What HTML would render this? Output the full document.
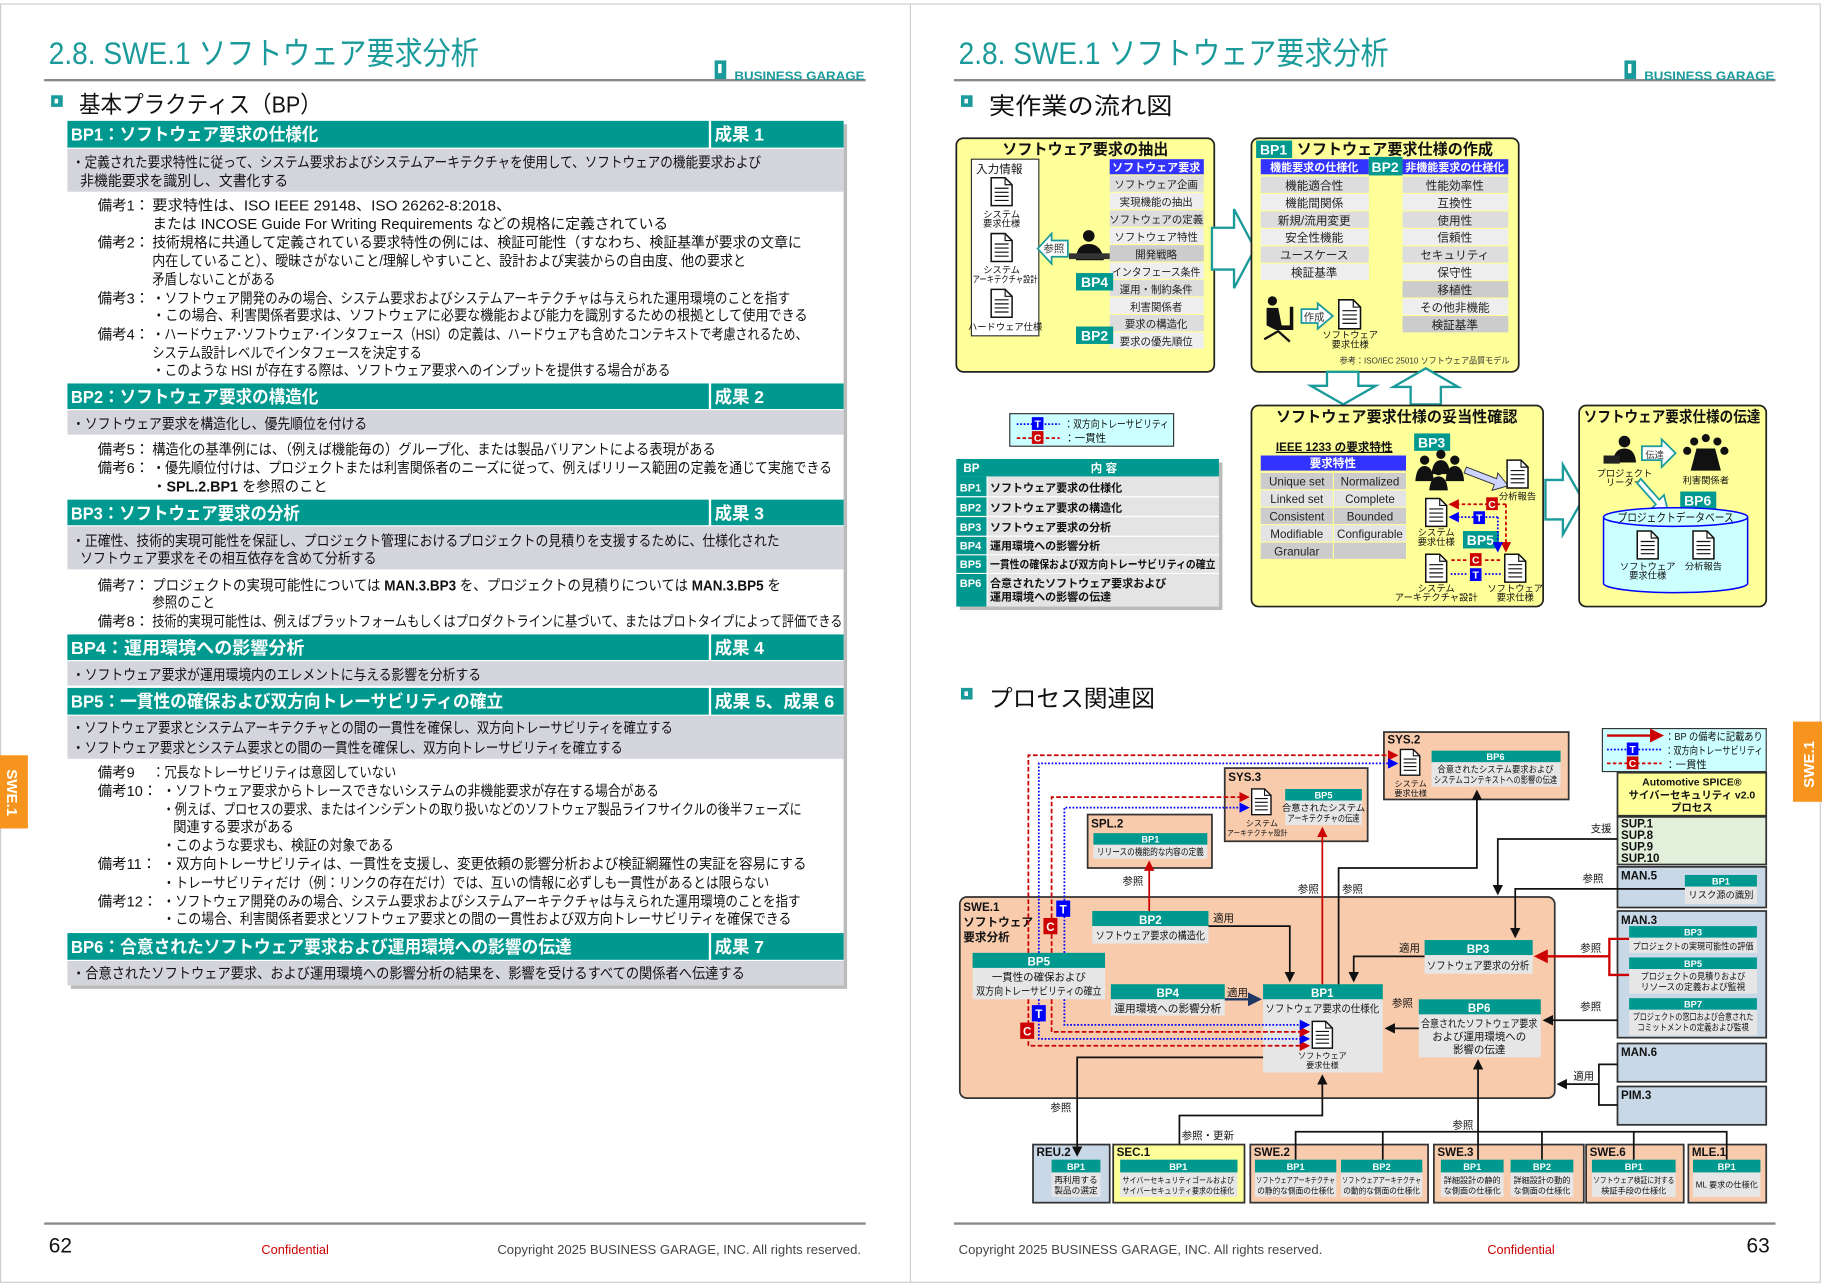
<!DOCTYPE html>
<html><head><meta charset="utf-8"><style>
html,body{margin:0;padding:0;background:#fff;}
svg{display:block;font-family:"Liberation Sans","Noto Sans CJK JP",sans-serif;}
.hd{fill:#fff;font-weight:bold;font-size:15px;}
.tx{fill:#111;font-size:12.5px;}
.s9{font-size:9px;fill:#111;}
.s8{font-size:8px;fill:#111;}
.s10{font-size:10px;fill:#111;}
.bw{fill:#fff;font-weight:bold;}
.lbl{font-size:9px;fill:#111;}
</style></head><body>
<svg width="1822" height="1284" viewBox="0 0 1568 1105" preserveAspectRatio="none" xmlns="http://www.w3.org/2000/svg">
<defs>
<symbol id="doc" viewBox="0 0 20 26"><path d="M1,1 H13 L19,7 V25 H1 Z" fill="#fff" stroke="#111" stroke-width="1.3"/><path d="M13,1 V7 H19" fill="none" stroke="#111" stroke-width="1"/><path d="M4,10H16M4,13.5H16M4,17H16M4,20.5H16" stroke="#111" stroke-width="1"/></symbol>
<marker id="ab" markerWidth="6" markerHeight="6" refX="5" refY="3" orient="auto"><path d="M0,0L6,3L0,6Z" fill="#111"/></marker>
<marker id="ar" markerWidth="6" markerHeight="6" refX="5" refY="3" orient="auto"><path d="M0,0L6,3L0,6Z" fill="#c00"/></marker>
<marker id="au" markerWidth="6" markerHeight="6" refX="5" refY="3" orient="auto"><path d="M0,0L6,3L0,6Z" fill="#00f"/></marker>
<marker id="an" markerWidth="6" markerHeight="6" refX="5" refY="3" orient="auto"><path d="M0,0L6,3L0,6Z" fill="#1f3864"/></marker>
</defs>
<rect x="0" y="0" width="1568" height="1105" fill="#fff"/>
<rect x="0.5" y="3.5" width="1566" height="1100" fill="none" stroke="#ccc"/>
<line x1="783.5" y1="3" x2="783.5" y2="1104" stroke="#ccc"/>

<!-- ============ LEFT PAGE ============ -->
<text x="42" y="55" font-size="27" fill="#1a9a9a" textLength="370" lengthAdjust="spacingAndGlyphs">2.8. SWE.1 ソフトウェア要求分析</text>
<rect x="38" y="68" width="707" height="2" fill="#888"/>
<rect x="615" y="52" width="10" height="16" fill="#1a9a9a"/><rect x="618" y="55" width="3" height="8" fill="#fff"/>
<text x="632" y="69" font-size="10" font-weight="bold" fill="#1a9a9a" textLength="112" lengthAdjust="spacingAndGlyphs">BUSINESS GARAGE</text>
<rect x="44" y="82" width="10" height="10" fill="#1a9a9a"/><rect x="47" y="85" width="3" height="4" fill="#fff"/>
<text x="68" y="97" font-size="20" fill="#111" textLength="209" lengthAdjust="spacingAndGlyphs">基本プラクティス（BP）</text>

<rect x="61" y="107" width="668" height="744" fill="#bbb"/>
<rect x="58" y="104" width="668" height="744" fill="#fff"/>
<g fill="#00998f">
<rect x="58" y="104" width="552" height="23"/><rect x="612" y="104" width="114" height="23"/>
<rect x="58" y="330" width="552" height="22"/><rect x="612" y="330" width="114" height="22"/>
<rect x="58" y="430" width="552" height="22"/><rect x="612" y="430" width="114" height="22"/>
<rect x="58" y="546" width="552" height="22"/><rect x="612" y="546" width="114" height="22"/>
<rect x="58" y="592" width="552" height="23"/><rect x="612" y="592" width="114" height="23"/>
<rect x="58" y="803" width="552" height="23"/><rect x="612" y="803" width="114" height="23"/>
</g>
<g fill="#d4d4dc">
<rect x="58" y="128" width="668" height="37"/><rect x="58" y="353" width="668" height="21"/>
<rect x="58" y="453" width="668" height="37"/><rect x="58" y="569" width="668" height="21"/>
<rect x="58" y="616" width="668" height="37"/><rect x="58" y="827" width="668" height="21"/>
</g>
<text class="hd" x="61" y="121" textLength="213" lengthAdjust="spacingAndGlyphs">BP1：ソフトウェア要求の仕様化</text><text class="hd" x="615" y="121">成果 1</text>
<text class="hd" x="61" y="347" textLength="213" lengthAdjust="spacingAndGlyphs">BP2：ソフトウェア要求の構造化</text><text class="hd" x="615" y="347">成果 2</text>
<text class="hd" x="61" y="447" textLength="197" lengthAdjust="spacingAndGlyphs">BP3：ソフトウェア要求の分析</text><text class="hd" x="615" y="447">成果 3</text>
<text class="hd" x="61" y="563" textLength="201" lengthAdjust="spacingAndGlyphs">BP4：運用環境への影響分析</text><text class="hd" x="615" y="563">成果 4</text>
<text class="hd" x="61" y="609" textLength="372" lengthAdjust="spacingAndGlyphs">BP5：一貫性の確保および双方向トレーサビリティの確立</text><text class="hd" x="615" y="609" textLength="103" lengthAdjust="spacingAndGlyphs">成果 5、成果 6</text>
<text class="hd" x="61" y="820" textLength="431" lengthAdjust="spacingAndGlyphs">BP6：合意されたソフトウェア要求および運用環境への影響の伝達</text><text class="hd" x="615" y="820">成果 7</text>

<g class="tx">
<text x="62" y="144" textLength="593" lengthAdjust="spacingAndGlyphs">・定義された要求特性に従って、システム要求およびシステムアーキテクチャを使用して、ソフトウェアの機能要求および</text>
<text x="69" y="160" textLength="179" lengthAdjust="spacingAndGlyphs">非機能要求を識別し、文書化する</text>
<text x="84" y="181">備考1：</text><text x="131" y="181" textLength="309" lengthAdjust="spacingAndGlyphs">要求特性は、ISO IEEE 29148、ISO 26262-8:2018、</text>
<text x="131" y="197" textLength="444" lengthAdjust="spacingAndGlyphs">または INCOSE Guide For Writing Requirements などの規格に定義されている</text>
<text x="84" y="213">備考2：</text><text x="131" y="213" textLength="559" lengthAdjust="spacingAndGlyphs">技術規格に共通して定義されている要求特性の例には、検証可能性（すなわち、検証基準が要求の文章に</text>
<text x="131" y="229" textLength="511" lengthAdjust="spacingAndGlyphs">内在していること）、曖昧さがないこと/理解しやすいこと、設計および実装からの自由度、他の要求と</text>
<text x="131" y="245" textLength="106" lengthAdjust="spacingAndGlyphs">矛盾しないことがある</text>
<text x="84" y="261">備考3：</text><text x="131" y="261" textLength="549" lengthAdjust="spacingAndGlyphs">・ソフトウェア開発のみの場合、システム要求およびシステムアーキテクチャは与えられた運用環境のことを指す</text>
<text x="131" y="276" textLength="564" lengthAdjust="spacingAndGlyphs">・この場合、利害関係者要求は、ソフトウェアに必要な機能および能力を識別するための根拠として使用できる</text>
<text x="84" y="292">備考4：</text><text x="131" y="292" textLength="564" lengthAdjust="spacingAndGlyphs">・ハードウェア･ソフトウェア･インタフェース（HSI）の定義は、ハードウェアも含めたコンテキストで考慮されるため、</text>
<text x="131" y="308" textLength="232" lengthAdjust="spacingAndGlyphs">システム設計レベルでインタフェースを決定する</text>
<text x="131" y="323" textLength="446" lengthAdjust="spacingAndGlyphs">・このような HSI が存在する際は、ソフトウェア要求へのインプットを提供する場合がある</text>

<text x="62" y="369" textLength="254" lengthAdjust="spacingAndGlyphs">・ソフトウェア要求を構造化し、優先順位を付ける</text>
<text x="84" y="391">備考5：</text><text x="131" y="391" textLength="485" lengthAdjust="spacingAndGlyphs">構造化の基準例には、（例えば機能毎の）グループ化、または製品バリアントによる表現がある</text>
<text x="84" y="407">備考6：</text><text x="131" y="407" textLength="585" lengthAdjust="spacingAndGlyphs">・優先順位付けは、プロジェクトまたは利害関係者のニーズに従って、例えばリリース範囲の定義を通じて実施できる</text>
<text x="131" y="423" textLength="151" lengthAdjust="spacingAndGlyphs">・<tspan font-weight="bold">SPL.2.BP1</tspan> を参照のこと</text>

<text x="62" y="470" textLength="609" lengthAdjust="spacingAndGlyphs">・正確性、技術的実現可能性を保証し、プロジェクト管理におけるプロジェクトの見積りを支援するために、仕様化された</text>
<text x="69" y="485" textLength="255" lengthAdjust="spacingAndGlyphs">ソフトウェア要求をその相互依存を含めて分析する</text>
<text x="84" y="508">備考7：</text><text x="131" y="508" textLength="541" lengthAdjust="spacingAndGlyphs">プロジェクトの実現可能性については <tspan font-weight="bold">MAN.3.BP3</tspan> を、プロジェクトの見積りについては <tspan font-weight="bold">MAN.3.BP5</tspan> を</text>
<text x="131" y="523" textLength="54" lengthAdjust="spacingAndGlyphs">参照のこと</text>
<text x="84" y="539">備考8：</text><text x="131" y="539" textLength="594" lengthAdjust="spacingAndGlyphs">技術的実現可能性は、例えばプラットフォームもしくはプロダクトラインに基づいて、またはプロトタイプによって評価できる</text>

<text x="62" y="585" textLength="352" lengthAdjust="spacingAndGlyphs">・ソフトウェア要求が運用環境内のエレメントに与える影響を分析する</text>

<text x="62" y="631" textLength="517" lengthAdjust="spacingAndGlyphs">・ソフトウェア要求とシステムアーキテクチャとの間の一貫性を確保し、双方向トレーサビリティを確立する</text>
<text x="62" y="648" textLength="474" lengthAdjust="spacingAndGlyphs">・ソフトウェア要求とシステム要求との間の一貫性を確保し、双方向トレーサビリティを確立する</text>
<text x="84" y="669">備考9</text><text x="131" y="669" textLength="210" lengthAdjust="spacingAndGlyphs">：冗長なトレーサビリティは意図していない</text>
<text x="84" y="685">備考10：</text><text x="140" y="685" textLength="427" lengthAdjust="spacingAndGlyphs">・ソフトウェア要求からトレースできないシステムの非機能要求が存在する場合がある</text>
<text x="140" y="701" textLength="550" lengthAdjust="spacingAndGlyphs">・例えば、プロセスの要求、またはインシデントの取り扱いなどのソフトウェア製品ライフサイクルの後半フェーズに</text>
<text x="149" y="716" textLength="104" lengthAdjust="spacingAndGlyphs">関連する要求がある</text>
<text x="140" y="732" textLength="199" lengthAdjust="spacingAndGlyphs">・このような要求も、検証の対象である</text>
<text x="84" y="748">備考11：</text><text x="140" y="748" textLength="554" lengthAdjust="spacingAndGlyphs">・双方向トレーサビリティは、一貫性を支援し、変更依頼の影響分析および検証網羅性の実証を容易にする</text>
<text x="140" y="764" textLength="522" lengthAdjust="spacingAndGlyphs">・トレーサビリティだけ（例：リンクの存在だけ）では、互いの情報に必ずしも一貫性があるとは限らない</text>
<text x="84" y="780">備考12：</text><text x="140" y="780" textLength="549" lengthAdjust="spacingAndGlyphs">・ソフトウェア開発のみの場合、システム要求およびシステムアーキテクチャは与えられた運用環境のことを指す</text>
<text x="140" y="795" textLength="541" lengthAdjust="spacingAndGlyphs">・この場合、利害関係者要求とソフトウェア要求との間の一貫性および双方向トレーサビリティを確保できる</text>
<text x="62" y="842" textLength="579" lengthAdjust="spacingAndGlyphs">・合意されたソフトウェア要求、および運用環境への影響分析の結果を、影響を受けるすべての関係者へ伝達する</text>
</g>

<rect x="0" y="650" width="24" height="63" fill="#f7941d"/>
<text x="6" y="662" transform="rotate(90 6 662)" font-size="13" font-weight="bold" fill="#fff">SWE.1</text>

<rect x="38" y="1052" width="707" height="2" fill="#888"/>
<text x="42" y="1078" font-size="18" fill="#111">62</text>
<text x="225" y="1079" font-size="11" fill="#c00">Confidential</text>
<text x="428" y="1079" font-size="11" fill="#444" textLength="313" lengthAdjust="spacingAndGlyphs">Copyright 2025 BUSINESS GARAGE, INC. All rights reserved.</text>

<!-- ============ RIGHT PAGE ============ -->
<text x="825" y="55" font-size="27" fill="#1a9a9a" textLength="370" lengthAdjust="spacingAndGlyphs">2.8. SWE.1 ソフトウェア要求分析</text>
<rect x="821" y="68" width="707" height="2" fill="#888"/>
<rect x="1398" y="52" width="10" height="16" fill="#1a9a9a"/><rect x="1401" y="55" width="3" height="8" fill="#fff"/>
<text x="1415" y="69" font-size="10" font-weight="bold" fill="#1a9a9a" textLength="112" lengthAdjust="spacingAndGlyphs">BUSINESS GARAGE</text>
<rect x="827" y="82" width="10" height="10" fill="#1a9a9a"/><rect x="830" y="85" width="3" height="4" fill="#fff"/>
<text x="851" y="98" font-size="20" fill="#111" textLength="158" lengthAdjust="spacingAndGlyphs">実作業の流れ図</text>
<rect x="827" y="592" width="10" height="10" fill="#1a9a9a"/><rect x="830" y="595" width="3" height="4" fill="#fff"/>
<text x="851" y="608" font-size="20" fill="#111" textLength="143" lengthAdjust="spacingAndGlyphs">プロセス関連図</text>

<!-- Box1 -->
<rect x="823" y="119" width="222" height="201" rx="6" fill="#ffff99" stroke="#222" stroke-width="1.5"/>
<text x="934" y="133" font-size="13" font-weight="bold" text-anchor="middle" fill="#111">ソフトウェア要求の抽出</text>
<rect x="836" y="137" width="58" height="152" fill="#fff" stroke="#333"/>
<text x="840" y="149" class="s10">入力情報</text>
<use href="#doc" x="852" y="152" width="20" height="26"/><text x="862" y="187" class="s8" text-anchor="middle" font-size="7">システム</text><text x="862" y="195" class="s8" text-anchor="middle" font-size="7">要求仕様</text>
<use href="#doc" x="852" y="200" width="20" height="26"/><text x="862" y="235" class="s8" text-anchor="middle" font-size="7">システム</text><text x="865" y="243" class="s8" text-anchor="middle" font-size="6.5" textLength="56" lengthAdjust="spacingAndGlyphs">アーキテクチャ設計</text>
<use href="#doc" x="852" y="248" width="20" height="26"/><text x="865" y="284" class="s8" text-anchor="middle" font-size="6.5">ハードウェア仕様</text>
<rect x="955" y="137" width="81" height="13" fill="#3333ff"/><text x="995" y="147" font-size="9.5" class="bw" text-anchor="middle">ソフトウェア要求</text>
<g font-size="9" fill="#222" text-anchor="middle">
<rect x="955" y="151" width="81" height="14" fill="#ddd"/><text x="995" y="162">ソフトウェア企画</text>
<rect x="955" y="166" width="81" height="14" fill="#eee"/><text x="995" y="177">実現機能の抽出</text>
<rect x="955" y="181" width="81" height="14" fill="#ddd"/><text x="995" y="192">ソフトウェアの定義</text>
<rect x="955" y="196" width="81" height="14" fill="#eee"/><text x="995" y="207">ソフトウェア特性</text>
<rect x="955" y="211" width="81" height="14" fill="#ccc"/><text x="995" y="222">開発戦略</text>
<rect x="955" y="226" width="81" height="14" fill="#eee"/><text x="995" y="237" textLength="76" lengthAdjust="spacingAndGlyphs">インタフェース条件</text>
<rect x="955" y="241" width="81" height="14" fill="#ddd"/><text x="995" y="252">運用・制約条件</text>
<rect x="955" y="256" width="81" height="14" fill="#eee"/><text x="995" y="267">利害関係者</text>
<rect x="955" y="271" width="81" height="14" fill="#ddd"/><text x="995" y="282">要求の構造化</text>
<rect x="955" y="286" width="81" height="14" fill="#eee"/><text x="995" y="297">要求の優先順位</text>
</g>
<circle cx="937" cy="203" r="5" fill="#111"/><path d="M926,224 Q926,210 937,210 Q948,210 950,224 Z" fill="#111"/><rect x="920" y="218" width="35" height="5" fill="#333"/>
<path d="M919,207 H905 V201 L893,214 L905,227 V221 H919 Z" fill="#fff" stroke="#1a9a9a" stroke-width="1.5"/><text x="898" y="217" font-size="9" fill="#333">参照</text>
<rect x="926" y="235" width="32" height="15" fill="#00998f"/><text x="942" y="247" font-size="12" class="bw" text-anchor="middle">BP4</text>
<rect x="926" y="281" width="32" height="15" fill="#00998f"/><text x="942" y="293" font-size="12" class="bw" text-anchor="middle">BP2</text>
<path d="M1043,196 H1062 V180 L1080,214 L1062,248 V232 H1043 Z" fill="#fff" stroke="#1a9a9a" stroke-width="2"/>

<!-- Box2 -->
<rect x="1077" y="119" width="230" height="201" rx="6" fill="#ffff99" stroke="#222" stroke-width="1.5"/>
<rect x="1081" y="121" width="31" height="15" fill="#00998f"/><text x="1096" y="133" font-size="12" class="bw" text-anchor="middle">BP1</text>
<text x="1116" y="133" font-size="13" font-weight="bold" fill="#111">ソフトウェア要求仕様の作成</text>
<rect x="1085" y="137" width="93" height="13" fill="#3333ff"/><text x="1131" y="147" font-size="9.5" class="bw" text-anchor="middle">機能要求の仕様化</text>
<rect x="1178" y="135" width="29" height="16" fill="#00998f"/><text x="1192" y="148" font-size="12" class="bw" text-anchor="middle">BP2</text>
<rect x="1207" y="137" width="91" height="13" fill="#3333ff"/><text x="1252" y="147" font-size="9.5" class="bw" text-anchor="middle">非機能要求の仕様化</text>
<g font-size="10" fill="#222" text-anchor="middle">
<rect x="1085" y="152" width="93" height="14" fill="#ddd"/><text x="1131" y="163">機能適合性</text>
<rect x="1085" y="167" width="93" height="14" fill="#eee"/><text x="1131" y="178">機能間関係</text>
<rect x="1085" y="182" width="93" height="14" fill="#ddd"/><text x="1131" y="193">新規/流用変更</text>
<rect x="1085" y="197" width="93" height="14" fill="#eee"/><text x="1131" y="208">安全性機能</text>
<rect x="1085" y="212" width="93" height="14" fill="#ddd"/><text x="1131" y="223">ユースケース</text>
<rect x="1085" y="227" width="93" height="14" fill="#eee"/><text x="1131" y="238">検証基準</text>
<rect x="1207" y="152" width="91" height="14" fill="#ddd"/><text x="1252" y="163">性能効率性</text>
<rect x="1207" y="167" width="91" height="14" fill="#eee"/><text x="1252" y="178">互換性</text>
<rect x="1207" y="182" width="91" height="14" fill="#ddd"/><text x="1252" y="193">使用性</text>
<rect x="1207" y="197" width="91" height="14" fill="#eee"/><text x="1252" y="208">信頼性</text>
<rect x="1207" y="212" width="91" height="14" fill="#ddd"/><text x="1252" y="223">セキュリティ</text>
<rect x="1207" y="227" width="91" height="14" fill="#eee"/><text x="1252" y="238">保守性</text>
<rect x="1207" y="242" width="91" height="14" fill="#ccc"/><text x="1252" y="253">移植性</text>
<rect x="1207" y="257" width="91" height="14" fill="#eee"/><text x="1252" y="268">その他非機能</text>
<rect x="1207" y="272" width="91" height="14" fill="#ccc"/><text x="1252" y="283">検証基準</text>
</g>
<circle cx="1095" cy="259" r="4" fill="#111"/><path d="M1090,265 H1100 L1103,280 H1112 V284 H1098 L1090,280 Z" fill="#111"/><rect x="1110" y="264" width="3" height="20" fill="#111"/><path d="M1088,292 L1100,285 L1110,294" stroke="#111" stroke-width="2" fill="none"/>
<path d="M1120,266 H1134 V261 L1147,272 L1134,283 V278 H1120 Z" fill="#fff" stroke="#1a9a9a" stroke-width="1.5"/><text x="1122" y="276" font-size="9" fill="#333">作成</text>
<use href="#doc" x="1151" y="257" width="21" height="27"/>
<text x="1162" y="291" class="s8" font-size="7" text-anchor="middle">ソフトウェア</text><text x="1162" y="299" class="s8" font-size="7" text-anchor="middle">要求仕様</text>
<text x="1153" y="313" font-size="7.5" fill="#333" textLength="146" lengthAdjust="spacingAndGlyphs">参考：ISO/IEC 25010 ソフトウェア品質モデル</text>
<path d="M1142,320 H1169 V332 H1184 L1156,348 L1128,332 H1142 Z" fill="#fff" stroke="#1a9a9a" stroke-width="2"/>
<path d="M1214,348 H1240 V333 H1255 L1227,317 L1199,333 H1214 Z" fill="#fff" stroke="#1a9a9a" stroke-width="2"/>

<!-- Box3 -->
<rect x="1077" y="349" width="251" height="173" rx="6" fill="#ffff99" stroke="#222" stroke-width="1.5"/>
<text x="1202" y="363" font-size="13" font-weight="bold" text-anchor="middle" fill="#111">ソフトウェア要求仕様の妥当性確認</text>
<text x="1098" y="388" font-size="10" font-weight="bold" fill="#111" text-decoration="underline">IEEE 1233 の要求特性</text>
<rect x="1085" y="392" width="125" height="13" fill="#3333ff"/><text x="1147" y="402" font-size="10" class="bw" text-anchor="middle">要求特性</text>
<g font-size="10" fill="#222" text-anchor="middle">
<rect x="1085" y="407" width="62" height="14" fill="#ccc"/><rect x="1148" y="407" width="62" height="14" fill="#ccc"/><text x="1116" y="418">Unique set</text><text x="1179" y="418">Normalized</text>
<rect x="1085" y="422" width="62" height="14" fill="#e4e4e4"/><rect x="1148" y="422" width="62" height="14" fill="#e4e4e4"/><text x="1116" y="433">Linked set</text><text x="1179" y="433">Complete</text>
<rect x="1085" y="437" width="62" height="14" fill="#ccc"/><rect x="1148" y="437" width="62" height="14" fill="#ccc"/><text x="1116" y="448">Consistent</text><text x="1179" y="448">Bounded</text>
<rect x="1085" y="452" width="62" height="14" fill="#e4e4e4"/><rect x="1148" y="452" width="62" height="14" fill="#e4e4e4"/><text x="1116" y="463">Modifiable</text><text x="1179" y="463">Configurable</text>
<rect x="1085" y="467" width="62" height="14" fill="#ccc"/><rect x="1148" y="467" width="62" height="14" fill="#ccc"/><text x="1116" y="478">Granular</text>
</g>
<rect x="1217" y="373" width="31" height="15" fill="#00998f"/><text x="1232" y="385" font-size="12" class="bw" text-anchor="middle">BP3</text>
<g fill="#111"><circle cx="1226" cy="396" r="4"/><path d="M1218,414 Q1219,401 1226,401 Q1233,401 1234,414Z"/><circle cx="1240" cy="391" r="4"/><path d="M1232,408 Q1233,396 1240,396 Q1247,396 1248,408Z"/><circle cx="1252" cy="396" r="4"/><path d="M1244,414 Q1245,401 1252,401 Q1259,401 1260,414Z"/><circle cx="1238" cy="405" r="4"/><path d="M1230,422 Q1231,410 1238,410 Q1245,410 1246,422Z"/></g>
<path d="M1262,402 L1288,412 L1289,407 L1298,418 L1284,422 L1286,417 L1260,407Z" fill="#ccd4ff" stroke="#333" stroke-width="0.8"/>
<use href="#doc" x="1296" y="395" width="20" height="26"/><text x="1306" y="430" class="s8" font-size="7.5" text-anchor="middle">分析報告</text>
<use href="#doc" x="1226" y="428" width="20" height="26"/><text x="1236" y="461" class="s8" font-size="7" text-anchor="middle">システム</text><text x="1236" y="469" class="s8" font-size="7" text-anchor="middle">要求仕様</text>
<rect x="1259" y="457" width="31" height="15" fill="#00998f"/><text x="1274" y="469" font-size="12" class="bw" text-anchor="middle">BP5</text>
<use href="#doc" x="1226" y="476" width="20" height="26"/><text x="1236" y="509" class="s8" font-size="7" text-anchor="middle">システム</text><text x="1236" y="517" class="s8" font-size="6.5" text-anchor="middle">アーキテクチャ設計</text>
<use href="#doc" x="1294" y="476" width="20" height="26"/><text x="1304" y="509" class="s8" font-size="7" text-anchor="middle">ソフトウェア</text><text x="1304" y="517" class="s8" font-size="7" text-anchor="middle">要求仕様</text>
<path d="M1296,434 H1248" stroke="#c00" stroke-width="1.5" stroke-dasharray="3,2" marker-end="url(#ar)"/><path d="M1296,434 V474" stroke="#c00" stroke-width="1.5" stroke-dasharray="3,2" marker-end="url(#ar)"/>
<path d="M1289,445 H1248" stroke="#00f" stroke-width="1.5" stroke-dasharray="1.5,1.5" marker-end="url(#au)"/><path d="M1289,445 V474" stroke="#00f" stroke-width="1.5" stroke-dasharray="1.5,1.5" marker-end="url(#au)"/>
<rect x="1279" y="428" width="10" height="11" fill="#c00"/><text x="1284" y="437" font-size="9" class="bw" text-anchor="middle">C</text>
<rect x="1268" y="440" width="10" height="11" fill="#00f"/><text x="1273" y="449" font-size="9" class="bw" text-anchor="middle">T</text>
<path d="M1262,482 H1248 M1278,482 H1292" stroke="#c00" stroke-width="1.5" stroke-dasharray="3,2"/><rect x="1265" y="476" width="10" height="11" fill="#c00"/><text x="1270" y="485" font-size="9" class="bw" text-anchor="middle">C</text>
<path d="M1262,494 H1248 M1278,494 H1292" stroke="#00f" stroke-width="1.5" stroke-dasharray="1.5,1.5"/><rect x="1265" y="489" width="10" height="11" fill="#00f"/><text x="1270" y="498" font-size="9" class="bw" text-anchor="middle">T</text>
<path d="M1330,413 H1345 V400 L1362,430 L1345,460 V447 H1330 Z" fill="#fff" stroke="#1a9a9a" stroke-width="2"/>

<!-- Box4 -->
<rect x="1359" y="349" width="161" height="173" rx="6" fill="#ffff99" stroke="#222" stroke-width="1.5"/>
<text x="1363" y="363" font-size="13" font-weight="bold" fill="#111" textLength="152" lengthAdjust="spacingAndGlyphs">ソフトウェア要求仕様の伝達</text>
<circle cx="1398" cy="380" r="5" fill="#111"/><path d="M1388,398 Q1389,386 1398,386 Q1407,386 1408,398Z" fill="#111"/><rect x="1380" y="392" width="14" height="7" fill="#222"/>
<text x="1398" y="410" class="s8" font-size="7" text-anchor="middle">プロジェクト</text><text x="1398" y="418" class="s8" font-size="7" text-anchor="middle">リーダー</text>
<path d="M1413,384 H1430 V378 L1442,390 L1430,402 V396 H1413 Z" fill="#fff" stroke="#1a9a9a" stroke-width="1.5"/><text x="1416" y="394" font-size="8" fill="#333">伝達</text>
<g fill="#111"><circle cx="1458" cy="380" r="3.5"/><circle cx="1468" cy="377" r="3.5"/><circle cx="1478" cy="380" r="3.5"/><circle cx="1452" cy="388" r="3.5"/><circle cx="1484" cy="388" r="3.5"/><path d="M1455,405 L1460,386 H1476 L1481,405Z"/></g>
<text x="1468" y="416" class="s8" font-size="7" text-anchor="middle">利害関係者</text>
<path d="M1412,412 L1428,430 L1432,426 L1436,442 L1421,438 L1425,434 L1409,416Z" fill="#fff" stroke="#1a9a9a" stroke-width="1.5"/>
<rect x="1446" y="423" width="31" height="15" fill="#00998f"/><text x="1461" y="435" font-size="12" class="bw" text-anchor="middle">BP6</text>
<path d="M1380,445 V502 A62,8 0 0 0 1504,502 V445" fill="#ccffff" stroke="#00f" stroke-width="1.3"/>
<ellipse cx="1442" cy="445" rx="62" ry="8" fill="#ccffff" stroke="#00f" stroke-width="1.3"/>
<text x="1442" y="449" font-size="10" text-anchor="middle" fill="#111" textLength="100" lengthAdjust="spacingAndGlyphs">プロジェクトデータベース</text>
<use href="#doc" x="1408" y="456" width="20" height="26"/><text x="1418" y="490" class="s8" font-size="7" text-anchor="middle">ソフトウェア</text><text x="1418" y="498" class="s8" font-size="7" text-anchor="middle">要求仕様</text>
<use href="#doc" x="1456" y="456" width="20" height="26"/><text x="1466" y="490" class="s8" font-size="7" text-anchor="middle">分析報告</text>

<!-- legend -->
<rect x="869" y="356" width="141" height="28" fill="#ccffff" stroke="#333"/>
<path d="M875,365 H912" stroke="#00f" stroke-width="1.5" stroke-dasharray="1.5,1.5"/><rect x="888" y="359" width="10" height="11" fill="#00f"/><text x="893" y="368" font-size="9" class="bw" text-anchor="middle">T</text>
<path d="M875,377 H912" stroke="#c00" stroke-width="1.5" stroke-dasharray="3,2"/><rect x="888" y="371" width="10" height="11" fill="#c00"/><text x="893" y="380" font-size="9" class="bw" text-anchor="middle">C</text>
<text x="916" y="368" class="s9" fill="#333" textLength="90" lengthAdjust="spacingAndGlyphs">：双方向トレーサビリティ</text><text x="916" y="380" class="s9">：一貫性</text>
<!-- BP table -->
<rect x="826" y="398" width="226" height="127" fill="#bbb"/>
<rect x="823" y="395" width="226" height="127" fill="#e4e4e4"/>
<rect x="823" y="395" width="226" height="15" fill="#00998f"/>
<text x="836" y="406" font-size="10" class="bw" text-anchor="middle">BP</text><text x="950" y="406" font-size="10" class="bw" text-anchor="middle">内 容</text>
<rect x="823" y="410" width="26" height="112" fill="#00998f"/>
<g stroke="#fff" stroke-width="1"><line x1="823" y1="427.5" x2="1049" y2="427.5"/><line x1="823" y1="444.5" x2="1049" y2="444.5"/><line x1="823" y1="461.5" x2="1049" y2="461.5"/><line x1="823" y1="477.5" x2="1049" y2="477.5"/><line x1="823" y1="493.5" x2="1049" y2="493.5"/><line x1="849.5" y1="410" x2="849.5" y2="522"/></g>
<g font-size="9.5" font-weight="bold" fill="#111">
<text x="826" y="423" fill="#fff">BP1</text><text x="852" y="423">ソフトウェア要求の仕様化</text>
<text x="826" y="440" fill="#fff">BP2</text><text x="852" y="440">ソフトウェア要求の構造化</text>
<text x="826" y="457" fill="#fff">BP3</text><text x="852" y="457">ソフトウェア要求の分析</text>
<text x="826" y="473" fill="#fff">BP4</text><text x="852" y="473">運用環境への影響分析</text>
<text x="826" y="489" fill="#fff">BP5</text><text x="852" y="489" textLength="194" lengthAdjust="spacingAndGlyphs">一貫性の確保および双方向トレーサビリティの確立</text>
<text x="826" y="505" fill="#fff">BP6</text><text x="852" y="505">合意されたソフトウェア要求および</text><text x="852" y="517">運用環境への影響の伝達</text>
</g>

<!-- ======= Process diagram ======= -->
<rect x="1379" y="627" width="141" height="37" fill="#ccffff" stroke="#333"/>
<path d="M1383,633 H1430" stroke="#c00" stroke-width="2" marker-end="url(#ar)"/><text x="1433" y="637" class="s9" font-size="8.5" textLength="84" lengthAdjust="spacingAndGlyphs">：BP の備考に記載あり</text>
<path d="M1383,645 H1430" stroke="#00f" stroke-width="1.5" stroke-dasharray="1.5,1.5"/><rect x="1400" y="639" width="10" height="11" fill="#00f"/><text x="1405" y="648" font-size="9" class="bw" text-anchor="middle">T</text><text x="1433" y="649" class="s9" font-size="8.5" textLength="84" lengthAdjust="spacingAndGlyphs">：双方向トレーサビリティ</text>
<path d="M1383,657 H1430" stroke="#c00" stroke-width="1.5" stroke-dasharray="3,2"/><rect x="1400" y="651" width="10" height="11" fill="#c00"/><text x="1405" y="660" font-size="9" class="bw" text-anchor="middle">C</text><text x="1433" y="661" class="s9" font-size="8.5">：一貫性</text>
<rect x="1392" y="665" width="128" height="37" fill="#ffff99" stroke="#333" stroke-width="1.5"/>
<g font-size="9" font-weight="bold" fill="#111" text-anchor="middle"><text x="1456" y="676">Automotive SPICE®</text><text x="1456" y="687">サイバーセキュリティ v2.0</text><text x="1456" y="698">プロセス</text></g>
<rect x="1392" y="703" width="128" height="41" fill="#e2efda" stroke="#333" stroke-width="1.5"/>
<g font-size="10" font-weight="bold" fill="#111"><text x="1395" y="712">SUP.1</text><text x="1395" y="722">SUP.8</text><text x="1395" y="732">SUP.9</text><text x="1395" y="742">SUP.10</text></g>
<g fill="#c9d8e6" stroke="#333" stroke-width="1.5">
<rect x="1392" y="746" width="128" height="35"/><rect x="1392" y="784" width="128" height="109"/><rect x="1392" y="898" width="128" height="33"/><rect x="1392" y="935" width="128" height="33"/>
</g>
<g font-size="10" font-weight="bold" fill="#111"><text x="1395" y="757">MAN.5</text><text x="1395" y="795">MAN.3</text><text x="1395" y="909">MAN.6</text><text x="1395" y="946">PIM.3</text></g>

<g fill="#f8cbad" stroke="#333" stroke-width="1.5">
<rect x="1191" y="630" width="159" height="58"/><rect x="1054" y="661" width="123" height="63"/><rect x="936" y="701" width="107" height="46"/>
<rect x="826" y="772" width="512" height="173" rx="6"/>
</g>
<g font-size="10" font-weight="bold" fill="#111"><text x="1194" y="640">SYS.2</text><text x="1057" y="672">SYS.3</text><text x="939" y="712">SPL.2</text>
<text x="829" y="784">SWE.1</text><text x="829" y="797">ソフトウェア</text><text x="829" y="810">要求分析</text></g>

<g>
<rect x="1232" y="646" width="111" height="10" fill="#00998f"/><rect x="1232" y="656" width="111" height="21" fill="#e6e6e6"/>
<text x="1287" y="654" font-size="8" class="bw" text-anchor="middle">BP6</text>
<text x="1287" y="665" class="s8" font-size="7" text-anchor="middle" textLength="100" lengthAdjust="spacingAndGlyphs">合意されたシステム要求および</text><text x="1287" y="674" class="s8" font-size="7" text-anchor="middle" textLength="106" lengthAdjust="spacingAndGlyphs">システムコンテキストへの影響の伝達</text>
<use href="#doc" x="1204" y="644" width="19" height="24"/><text x="1214" y="677" font-size="7" fill="#111" text-anchor="middle">システム</text><text x="1214" y="685" font-size="7" fill="#111" text-anchor="middle">要求仕様</text>

<rect x="1106" y="679" width="66" height="10" fill="#00998f"/><rect x="1106" y="689" width="66" height="21" fill="#e6e6e6"/>
<text x="1139" y="687" font-size="8" class="bw" text-anchor="middle">BP5</text>
<text x="1139" y="698" class="s8" font-size="7" text-anchor="middle">合意されたシステム</text><text x="1139" y="707" class="s8" font-size="7" text-anchor="middle" textLength="62" lengthAdjust="spacingAndGlyphs">アーキテクチャの伝達</text>
<use href="#doc" x="1076" y="678" width="19" height="24"/><text x="1086" y="711" font-size="7" fill="#111" text-anchor="middle">システム</text><text x="1082" y="719" font-size="6.5" fill="#111" text-anchor="middle" textLength="52" lengthAdjust="spacingAndGlyphs">アーキテクチャ設計</text>

<rect x="941" y="717" width="98" height="10" fill="#00998f"/><rect x="941" y="727" width="98" height="12" fill="#e6e6e6"/>
<text x="990" y="725" font-size="8" class="bw" text-anchor="middle">BP1</text><text x="990" y="736" class="s8" font-size="7" text-anchor="middle" textLength="92" lengthAdjust="spacingAndGlyphs">リリースの機能的な内容の定義</text>

<rect x="1450" y="753" width="62" height="10" fill="#00998f"/><rect x="1450" y="763" width="62" height="15" fill="#e6e6e6"/>
<text x="1481" y="761" font-size="8" class="bw" text-anchor="middle">BP1</text><text x="1481" y="773" class="s8" font-size="7.5" text-anchor="middle">リスク源の識別</text>

<rect x="1402" y="797" width="110" height="10" fill="#00998f"/><rect x="1402" y="807" width="110" height="13" fill="#e6e6e6"/>
<text x="1457" y="805" font-size="8" class="bw" text-anchor="middle">BP3</text><text x="1457" y="817" class="s8" font-size="7" text-anchor="middle" textLength="104" lengthAdjust="spacingAndGlyphs">プロジェクトの実現可能性の評価</text>
<rect x="1402" y="824" width="110" height="10" fill="#00998f"/><rect x="1402" y="834" width="110" height="21" fill="#e6e6e6"/>
<text x="1457" y="832" font-size="8" class="bw" text-anchor="middle">BP5</text><text x="1457" y="843" class="s8" font-size="7" text-anchor="middle" textLength="90" lengthAdjust="spacingAndGlyphs">プロジェクトの見積りおよび</text><text x="1457" y="852" class="s8" font-size="7" text-anchor="middle" textLength="90" lengthAdjust="spacingAndGlyphs">リソースの定義および監視</text>
<rect x="1402" y="859" width="110" height="10" fill="#00998f"/><rect x="1402" y="869" width="110" height="22" fill="#e6e6e6"/>
<text x="1457" y="867" font-size="8" class="bw" text-anchor="middle">BP7</text><text x="1457" y="878" class="s8" font-size="7" text-anchor="middle" textLength="104" lengthAdjust="spacingAndGlyphs">プロジェクトの窓口および合意された</text><text x="1457" y="887" class="s8" font-size="7" text-anchor="middle" textLength="96" lengthAdjust="spacingAndGlyphs">コミットメントの定義および監視</text>
</g>

<g>
<rect x="940" y="784" width="100" height="13" fill="#00998f"/><rect x="940" y="797" width="100" height="15" fill="#e6e6e6"/>
<text x="990" y="795" font-size="10" class="bw" text-anchor="middle">BP2</text><text x="990" y="808" font-size="9" fill="#111" text-anchor="middle" textLength="94" lengthAdjust="spacingAndGlyphs">ソフトウェア要求の構造化</text>
<rect x="837" y="820" width="114" height="13" fill="#00998f"/><rect x="837" y="833" width="114" height="27" fill="#e6e6e6"/>
<text x="894" y="831" font-size="10" class="bw" text-anchor="middle">BP5</text><text x="894" y="844" font-size="9" fill="#111" text-anchor="middle">一貫性の確保および</text><text x="894" y="856" font-size="9" fill="#111" text-anchor="middle" textLength="108" lengthAdjust="spacingAndGlyphs">双方向トレーサビリティの確立</text>
<rect x="956" y="847" width="98" height="13" fill="#00998f"/><rect x="956" y="860" width="98" height="14" fill="#e6e6e6"/>
<text x="1005" y="858" font-size="10" class="bw" text-anchor="middle">BP4</text><text x="1005" y="871" font-size="9" fill="#111" text-anchor="middle" textLength="92" lengthAdjust="spacingAndGlyphs">運用環境への影響分析</text>
<rect x="1087" y="847" width="103" height="13" fill="#00998f"/><rect x="1087" y="860" width="103" height="63" fill="#e6e6e6"/>
<text x="1138" y="858" font-size="10" class="bw" text-anchor="middle">BP1</text><text x="1138" y="871" font-size="9" fill="#111" text-anchor="middle" textLength="98" lengthAdjust="spacingAndGlyphs">ソフトウェア要求の仕様化</text>
<use href="#doc" x="1128" y="878" width="20" height="25"/><text x="1138" y="911" font-size="7" fill="#111" text-anchor="middle">ソフトウェア</text><text x="1138" y="919" font-size="7" fill="#111" text-anchor="middle">要求仕様</text>
<rect x="1226" y="809" width="93" height="13" fill="#00998f"/><rect x="1226" y="822" width="93" height="16" fill="#e6e6e6"/>
<text x="1272" y="820" font-size="10" class="bw" text-anchor="middle">BP3</text><text x="1272" y="834" font-size="9" fill="#111" text-anchor="middle" textLength="88" lengthAdjust="spacingAndGlyphs">ソフトウェア要求の分析</text>
<rect x="1221" y="860" width="105" height="13" fill="#00998f"/><rect x="1221" y="873" width="105" height="37" fill="#e6e6e6"/>
<text x="1273" y="871" font-size="10" class="bw" text-anchor="middle">BP6</text><text x="1273" y="884" font-size="9" fill="#111" text-anchor="middle" textLength="100" lengthAdjust="spacingAndGlyphs">合意されたソフトウェア要求</text><text x="1273" y="895" font-size="9" fill="#111" text-anchor="middle">および運用環境への</text><text x="1273" y="906" font-size="9" fill="#111" text-anchor="middle">影響の伝達</text>
</g>

<g stroke="#333" stroke-width="1.5">
<rect x="889" y="985" width="66" height="50" fill="#c9d8e6"/><rect x="958" y="985" width="113" height="50" fill="#ffff99"/>
<rect x="1076" y="985" width="153" height="50" fill="#f8cbad"/><rect x="1234" y="985" width="129" height="50" fill="#f8cbad"/>
<rect x="1365" y="985" width="84" height="50" fill="#f8cbad"/><rect x="1453" y="985" width="67" height="50" fill="#f8cbad"/>
</g>
<g font-size="10" font-weight="bold" fill="#111"><text x="892" y="995">REU.2</text><text x="961" y="995">SEC.1</text><text x="1079" y="995">SWE.2</text><text x="1237" y="995">SWE.3</text><text x="1368" y="995">SWE.6</text><text x="1456" y="995">MLE.1</text></g>
<g>
<rect x="905" y="998" width="42" height="11" fill="#00998f"/><rect x="905" y="1009" width="42" height="21" fill="#e6e6e6"/><text x="926" y="1007" font-size="8" class="bw" text-anchor="middle">BP1</text><text x="926" y="1018" font-size="7.5" fill="#111" text-anchor="middle">再利用する</text><text x="926" y="1027" font-size="7.5" fill="#111" text-anchor="middle">製品の選定</text>
<rect x="964" y="998" width="101" height="11" fill="#00998f"/><rect x="964" y="1009" width="101" height="21" fill="#e6e6e6"/><text x="1014" y="1007" font-size="8" class="bw" text-anchor="middle">BP1</text><text x="1014" y="1018" font-size="7" fill="#111" text-anchor="middle" textLength="96" lengthAdjust="spacingAndGlyphs">サイバーセキュリティゴールおよび</text><text x="1014" y="1027" font-size="7" fill="#111" text-anchor="middle" textLength="96" lengthAdjust="spacingAndGlyphs">サイバーセキュリティ要求の仕様化</text>
<rect x="1080" y="998" width="70" height="11" fill="#00998f"/><rect x="1080" y="1009" width="70" height="21" fill="#e6e6e6"/><text x="1115" y="1007" font-size="8" class="bw" text-anchor="middle">BP1</text><text x="1115" y="1018" font-size="7" fill="#111" text-anchor="middle" textLength="68" lengthAdjust="spacingAndGlyphs">ソフトウェアアーキテクチャ</text><text x="1115" y="1027" font-size="7" fill="#111" text-anchor="middle" textLength="66" lengthAdjust="spacingAndGlyphs">の静的な側面の仕様化</text>
<rect x="1154" y="998" width="70" height="11" fill="#00998f"/><rect x="1154" y="1009" width="70" height="21" fill="#e6e6e6"/><text x="1189" y="1007" font-size="8" class="bw" text-anchor="middle">BP2</text><text x="1189" y="1018" font-size="7" fill="#111" text-anchor="middle" textLength="68" lengthAdjust="spacingAndGlyphs">ソフトウェアアーキテクチャ</text><text x="1189" y="1027" font-size="7" fill="#111" text-anchor="middle" textLength="66" lengthAdjust="spacingAndGlyphs">の動的な側面の仕様化</text>
<rect x="1240" y="998" width="54" height="11" fill="#00998f"/><rect x="1240" y="1009" width="54" height="21" fill="#e6e6e6"/><text x="1267" y="1007" font-size="8" class="bw" text-anchor="middle">BP1</text><text x="1267" y="1018" font-size="7" fill="#111" text-anchor="middle">詳細設計の静的</text><text x="1267" y="1027" font-size="7" fill="#111" text-anchor="middle">な側面の仕様化</text>
<rect x="1300" y="998" width="54" height="11" fill="#00998f"/><rect x="1300" y="1009" width="54" height="21" fill="#e6e6e6"/><text x="1327" y="1007" font-size="8" class="bw" text-anchor="middle">BP2</text><text x="1327" y="1018" font-size="7" fill="#111" text-anchor="middle">詳細設計の動的</text><text x="1327" y="1027" font-size="7" fill="#111" text-anchor="middle">な側面の仕様化</text>
<rect x="1370" y="998" width="72" height="11" fill="#00998f"/><rect x="1370" y="1009" width="72" height="21" fill="#e6e6e6"/><text x="1406" y="1007" font-size="8" class="bw" text-anchor="middle">BP1</text><text x="1406" y="1018" font-size="7" fill="#111" text-anchor="middle" textLength="70" lengthAdjust="spacingAndGlyphs">ソフトウェア検証に対する</text><text x="1406" y="1027" font-size="7" fill="#111" text-anchor="middle">検証手段の仕様化</text>
<rect x="1457" y="998" width="58" height="11" fill="#00998f"/><rect x="1457" y="1009" width="58" height="21" fill="#e6e6e6"/><text x="1486" y="1007" font-size="8" class="bw" text-anchor="middle">BP1</text><text x="1486" y="1022" font-size="7" fill="#111" text-anchor="middle">ML 要求の仕様化</text>
</g>

<g fill="none" stroke-width="1.5">
<path d="M885,820 V650 H1202" stroke="#c00" stroke-dasharray="4,2" marker-end="url(#ar)"/>
<path d="M894,820 V657 H1202" stroke="#00f" stroke-dasharray="1.5,1.5" marker-end="url(#au)"/>
<path d="M905,820 V686 H1074" stroke="#c00" stroke-dasharray="4,2" marker-end="url(#ar)"/>
<path d="M916,820 V695 H1074" stroke="#00f" stroke-dasharray="1.5,1.5" marker-end="url(#au)"/>
<path d="M885,860 V900 H1126" stroke="#c00" stroke-dasharray="4,2" marker-end="url(#ar)"/>
<path d="M894,860 V894 H1126" stroke="#00f" stroke-dasharray="1.5,1.5" marker-end="url(#au)"/>
<path d="M905,860 V888 H1126" stroke="#c00" stroke-dasharray="4,2" marker-end="url(#ar)"/>
<path d="M916,860 V882 H1126" stroke="#00f" stroke-dasharray="1.5,1.5" marker-end="url(#au)"/>
<path d="M989,784 V742" stroke="#c00" marker-end="url(#ar)"/>
<path d="M1138,847 V713" stroke="#c00" marker-end="url(#ar)"/>
<path d="M1152,847 V747 H1271 V681" stroke="#111" marker-end="url(#ab)"/>
<path d="M1040,797 H1110 V844" stroke="#111" marker-end="url(#ab)"/>
<path d="M1226,823 H1165 V844" stroke="#111" marker-end="url(#ab)"/>
<path d="M1054,860 H1084" stroke="#1f3864" stroke-width="2" marker-end="url(#an)"/>
<path d="M1221,885 H1193" stroke="#111" marker-end="url(#ab)"/>
<path d="M1402,808 H1385 V839 H1402 M1385,823 H1322" stroke="#c00" stroke-width="2" marker-end="url(#ar)"/>
<path d="M1392,878 H1329" stroke="#111" marker-end="url(#ab)"/>
<path d="M1450,765 H1304 V806" stroke="#111" marker-end="url(#ab)"/>
<path d="M1392,722 H1289 V769" stroke="#111" marker-end="url(#ab)"/>
<path d="M1392,916 H1376 V951 H1392 M1376,933 H1341" stroke="#111" marker-end="url(#ab)"/>
<path d="M1015,985 V960 H1138 V926" stroke="#111" marker-end="url(#ab)"/>
<path d="M1087,910 H927 V994" stroke="#111" marker-end="url(#ab)"/>
<path d="M1115,998 V974 H1486 V998 M1190,974 V998 M1327,974 V998 M1406,974 V998" stroke="#111"/>
<path d="M1272,998 V913" stroke="#111" marker-end="url(#ab)"/>
</g>
<rect x="909" y="775" width="12" height="14" fill="#00f"/><text x="915" y="786" font-size="10" class="bw" text-anchor="middle">T</text>
<rect x="898" y="790" width="12" height="14" fill="#c00"/><text x="904" y="801" font-size="10" class="bw" text-anchor="middle">C</text>
<rect x="888" y="865" width="12" height="14" fill="#00f"/><text x="894" y="876" font-size="10" class="bw" text-anchor="middle">T</text>
<rect x="878" y="880" width="12" height="14" fill="#c00"/><text x="884" y="891" font-size="10" class="bw" text-anchor="middle">C</text>
<g class="lbl">
<text x="966" y="761">参照</text><text x="1117" y="768">参照</text><text x="1155" y="768">参照</text>
<text x="1044" y="793">適用</text><text x="1204" y="819">適用</text><text x="1056" y="857">適用</text><text x="1198" y="866">参照</text>
<text x="1360" y="819">参照</text><text x="1360" y="869">参照</text><text x="1362" y="759">参照</text><text x="1369" y="716">支援</text>
<text x="1354" y="929">適用</text><text x="1017" y="980">参照・更新</text><text x="904" y="956">参照</text><text x="1250" y="971">参照</text>
</g>

<rect x="1543" y="621" width="25" height="69" fill="#f7941d"/>
<text x="1561" y="678" transform="rotate(-90 1561 678)" font-size="13" font-weight="bold" fill="#fff">SWE.1</text>

<rect x="821" y="1052" width="707" height="2" fill="#888"/>
<text x="825" y="1079" font-size="11" fill="#444" textLength="313" lengthAdjust="spacingAndGlyphs">Copyright 2025 BUSINESS GARAGE, INC. All rights reserved.</text>
<text x="1280" y="1079" font-size="11" fill="#c00">Confidential</text>
<text x="1503" y="1078" font-size="18" fill="#111">63</text>
</svg>
</body></html>
